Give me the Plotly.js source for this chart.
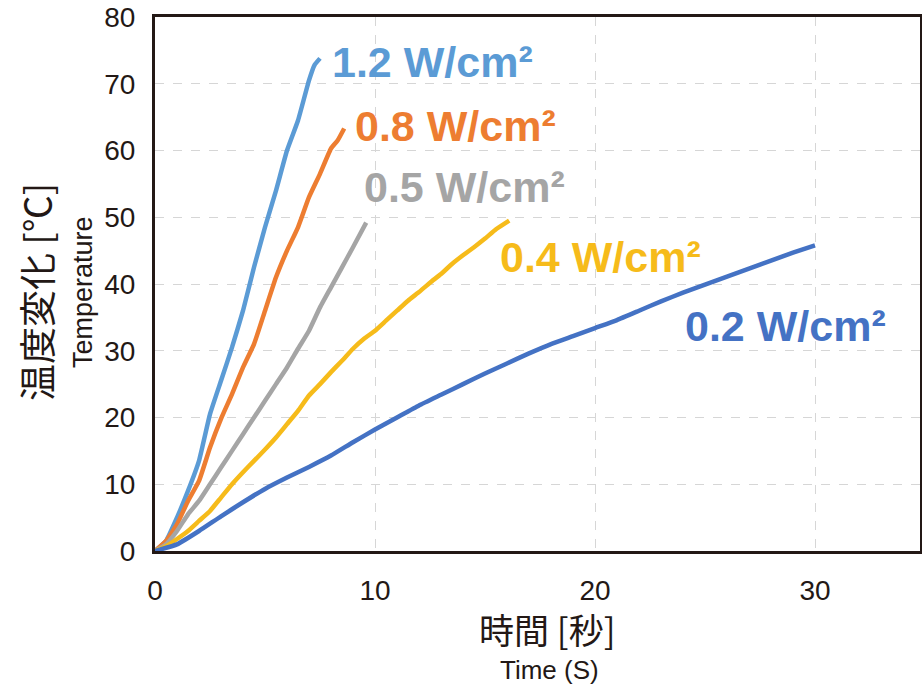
<!DOCTYPE html>
<html>
<head>
<meta charset="utf-8">
<script src="https://cdn.plot.ly/plotly-3.0.1.min.js"></script>
<style>html,body{margin:0;padding:0;background:#fff;}#chart{width:922px;height:684px;}</style>
</head>
<body>
<div id="chart"></div>
<script>
// Series: time (s) and temperature change (°C)
const seriesNames = ["1.2 W/cm²", "0.8 W/cm²", "0.5 W/cm²", "0.4 W/cm²", "0.2 W/cm²"];
const seriesColors = ["#5B9BD5", "#ED7D31", "#A5A5A5", "#F6BB1A", "#4472C4"];

const t12 = [0, 0.5, 1, 1.5, 2, 2.5, 3, 3.5, 4, 4.5, 5, 5.5, 6, 6.5, 7, 7.25, 7.5];
const y12 = [0, 1.5, 5, 9, 13.5, 20.5, 25.5, 30.5, 36, 42.5, 48.5, 54, 60, 64.5, 70.5, 72.8, 73.8];

const t08 = [0, 0.5, 1, 1.5, 2, 2.5, 3, 3.5, 4, 4.5, 5, 5.5, 6, 6.5, 7, 7.5, 8, 8.3, 8.6];
const y08 = [0, 1.5, 4, 7.5, 10.5, 15.5, 19.8, 23.5, 27.5, 31, 36, 41, 45, 48.5, 53, 56.5, 60.3, 61.5, 63.3];

const t05 = [0, 0.5, 1, 1.5, 2, 2.5, 3, 3.5, 4, 4.5, 5, 5.5, 6, 6.5, 7, 7.5, 8, 8.5, 9, 9.6];
const y05 = [0, 1, 3, 5.5, 7.5, 10, 12.5, 15, 17.5, 20, 22.5, 25, 27.5, 30.3, 33, 36.5, 39.5, 42.5, 45.5, 49.2];

const t04 = [0, 0.5, 1, 1.5, 2, 2.5, 3, 3.5, 4, 4.5, 5, 5.5, 6, 6.5, 7, 7.5, 8, 8.5, 9, 9.5, 10, 10.5, 11, 11.5, 12, 12.5, 13, 13.5, 14, 14.5, 15, 15.5, 16.1];
const y04 = [0, 0.7, 1.8, 3, 4.5, 6, 8, 10, 11.8, 13.5, 15.2, 17, 19, 21, 23.3, 25, 26.8, 28.5, 30.3, 31.8, 33, 34.5, 36, 37.5, 38.8, 40.2, 41.5, 43, 44.3, 45.5, 46.8, 48.2, 49.5];

const t02 = [0, 1, 2, 3, 4, 5, 6, 7, 8, 9, 10, 11, 12, 13, 14, 15, 16, 17, 18, 19, 20, 21, 22, 23, 24, 25, 26, 27, 28, 29, 30];
const y02 = [0, 1, 3, 5.2, 7.3, 9.3, 11, 12.6, 14.3, 16.3, 18.2, 20, 21.8, 23.4, 25, 26.6, 28.1, 29.6, 31, 32.2, 33.4, 34.6, 36, 37.4, 38.7, 39.9, 41.1, 42.3, 43.5, 44.7, 45.8];

const xTickVals = [0, 10, 20, 30];
const yTickVals = [0, 10, 20, 30, 40, 50, 60, 70, 80];

const xs = [t12, t08, t05, t04, t02];
const ys = [y12, y08, y05, y04, y02];

const traces = xs.map((x, i) => ({
  x: x, y: ys[i], type: 'scatter', mode: 'lines',
  line: {color: seriesColors[i], width: 4.5, shape: 'spline', smoothing: 0.4},
  name: seriesNames[i], hoverinfo: 'skip'
}));

// plot area in pixels
const L = 155, R = 920, T = 17, B = 551;
const px = v => (v - L) / (R - L);
const py = v => (B - v) / (B - T);

const ink = '#231815';
const labelPos = [[330, 62], [353, 126], [362, 187], [498, 257], [683, 326]];

const annotations = labelPos.map((p, i) => ({
  xref: 'paper', yref: 'paper', x: px(p[0]), y: py(p[1]),
  xanchor: 'left', yanchor: 'middle', showarrow: false,
  text: seriesNames[i],
  font: {family: 'Liberation Sans, Arial, sans-serif', size: 43, weight: 'bold', color: seriesColors[i]}
}));

annotations.push(
  {xref: 'paper', yref: 'paper', x: px(547), y: py(628), xanchor: 'center', yanchor: 'middle', showarrow: false,
   text: '時間 [秒]', font: {family: 'Noto Sans CJK JP, sans-serif', size: 35, color: ink}},
  {xref: 'paper', yref: 'paper', x: px(549), y: py(670), xanchor: 'center', yanchor: 'middle', showarrow: false,
   text: 'Time (S)', font: {family: 'Liberation Sans Narrow, Liberation Sans, Arial, sans-serif', size: 26, color: ink}},
  {xref: 'paper', yref: 'paper', x: px(36), y: py(292), xanchor: 'center', yanchor: 'middle', showarrow: false, textangle: -90,
   text: '温度変化 [℃]', font: {family: 'Noto Sans CJK JP, sans-serif', size: 37, color: ink}},
  {xref: 'paper', yref: 'paper', x: px(83), y: py(292), xanchor: 'center', yanchor: 'middle', showarrow: false, textangle: -90,
   text: 'Temperature', font: {family: 'Liberation Sans Narrow, Liberation Sans, Arial, sans-serif', size: 27, color: ink}}
);

const layout = {
  width: 922, height: 684,
  margin: {l: L, r: 922 - R, t: T, b: 684 - B},
  paper_bgcolor: '#ffffff', plot_bgcolor: '#ffffff',
  showlegend: false,
  xaxis: {
    range: [0, (R - L) / 22], tickvals: xTickVals, ticktext: xTickVals.map(String),
    showgrid: true, gridcolor: '#d6d6d6', griddash: 'dash', gridwidth: 1,
    zeroline: false, showline: true, mirror: true, linecolor: ink, linewidth: 3,
    ticks: 'outside', ticklen: 12, tickcolor: 'rgba(0,0,0,0)',
    tickfont: {family: 'Liberation Sans Narrow, Liberation Sans, Arial, sans-serif', size: 28, color: ink}
  },
  yaxis: {
    range: [0, 80], tickvals: yTickVals, ticktext: yTickVals.map(String),
    showgrid: true, gridcolor: '#d6d6d6', griddash: 'dash', gridwidth: 1,
    zeroline: false, showline: true, mirror: true, linecolor: ink, linewidth: 3,
    ticks: 'outside', ticklen: 11, tickcolor: 'rgba(0,0,0,0)',
    tickfont: {family: 'Liberation Sans Narrow, Liberation Sans, Arial, sans-serif', size: 28, color: ink}
  },
  annotations: annotations
};

Plotly.newPlot('chart', traces, layout, {displayModeBar: false, staticPlot: true});
</script>
</body>
</html>
